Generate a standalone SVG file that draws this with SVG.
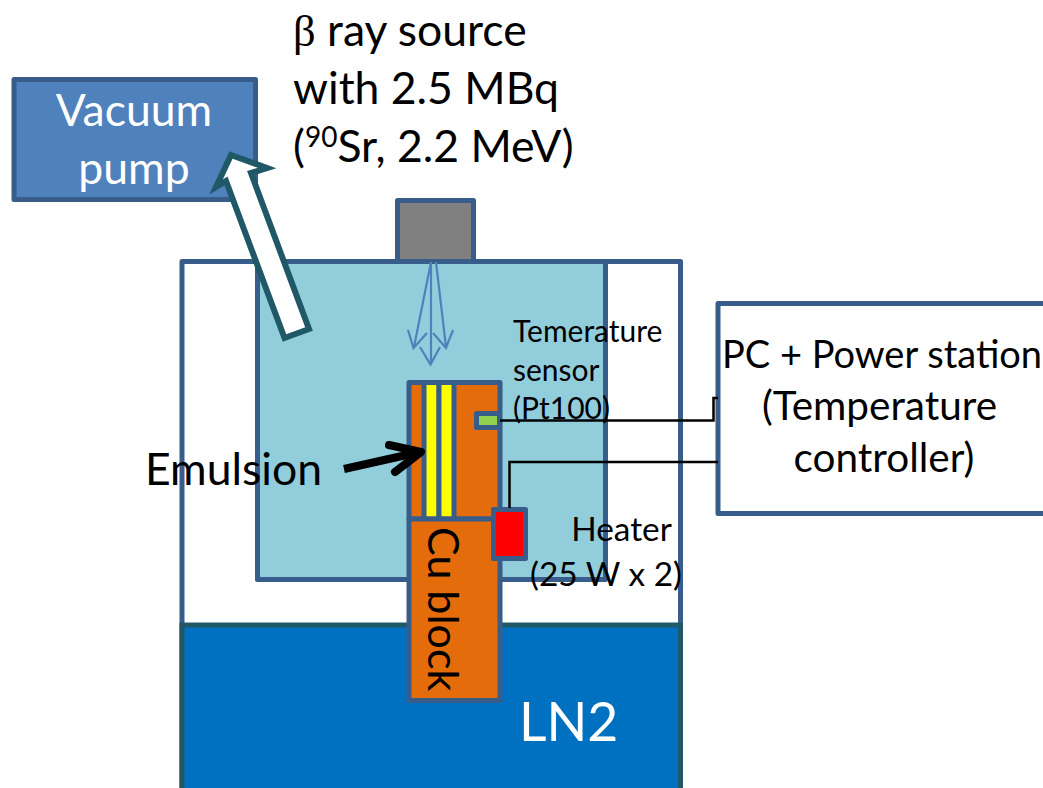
<svg xmlns="http://www.w3.org/2000/svg" width="1043" height="788" viewBox="0 0 1043 788">
<style>
.b{stroke:#385D8A;stroke-width:5;stroke-linejoin:round}
.t{font-family:"Lato","Noto Sans",sans-serif;fill:#000}
.l{font-size:43px}.m{font-size:44.500px}.p{font-size:40.500px}.s{font-size:30px}.h{font-size:33.400px}
.w{fill:#fff}.c{text-anchor:middle}
.wire{fill:none;stroke:#000;stroke-width:2.5}
.ray{fill:none;stroke:#4F81BD;stroke-width:2.2}
</style>
<rect width="1043" height="788" fill="#fff"/>
<g id="outer-box"><rect class="b" x="182" y="261.5" width="498.5" height="560" fill="#fff"/></g>
<g id="chamber"><rect class="b" x="257.5" y="261.5" width="348" height="318" fill="#92CDDC"/></g>
<g id="lin2"><rect x="182" y="625" width="498.5" height="200" fill="#0070C0" stroke="#215868" stroke-width="5"/><text class="t w" x="519" y="741" font-size="53.500">LN2</text></g>
<g id="source"><rect class="b" x="397.5" y="200.5" width="76" height="61" fill="#808080"/></g>
<g id="cu-block">
<rect class="b" x="409" y="382.5" width="91" height="136.5" fill="#E46C0A"/>
<rect class="b" x="424" y="382.5" width="15" height="136.5" fill="#FF0"/>
<rect class="b" x="439" y="382.5" width="15" height="136.5" fill="#FF0"/>
<rect class="b" x="409" y="519" width="91" height="181.5" fill="#E46C0A"/>
<text class="t l" transform="translate(428 527) rotate(90)">Cu block</text>
</g>
<g id="sensor"><rect class="b" x="476.5" y="413.5" width="23" height="14" fill="#92D050"/></g>
<g id="heater"><rect class="b" x="493.5" y="509.5" width="32" height="49" fill="#F00"/></g>
<g id="pump"><rect class="b" x="14" y="79.5" width="241.500" height="120" fill="#4F81BD"/>
<text class="t m w c" x="134" y="126">Vacuum</text><text class="t m w c" x="134" y="184">pump</text></g>
<g id="controller"><rect class="b" x="718" y="303.500" width="340" height="210" fill="#fff"/>
<text class="t" x="722" y="368" font-size="38">PC + Power station</text>
<text class="t p c" x="879.500" y="420">(Temperature</text>
<text class="t p c" x="884" y="472">controller)</text></g>
<g id="connectors">
<path class="wire" d="M500 420.500H713.500V398H718"/>
<path class="wire" d="M509.500 508V462H718"/>
<path class="ray" d="M431 262V364M420 347L430.500 364.500L440 347"/>
<path class="ray" d="M431 262L414 347M408 330L413.500 348L427 333"/>
<path class="ray" d="M436 262L446 347M433 333L446 348L453 330"/>
<path d="M231 155L267 168L251 173L309 329L284.500 338L226 181L216 187Z" fill="#fff" stroke="#215868" stroke-width="6"/>
<path d="M344 469L420 452" fill="none" stroke="#000" stroke-width="8"/>
<path d="M389 445L421 452L395 472" fill="none" stroke="#000" stroke-width="8" stroke-linejoin="round" stroke-linecap="round"/>
</g>
<g id="labels">
<text class="t m" x="293" y="46"><tspan font-family="Liberation Serif">β</tspan> ray source</text>
<text class="t m" x="293" y="104">with 2.5 MBq</text>
<text class="t m" x="293" y="162">(<tspan font-size="28" dy="-15">90</tspan><tspan dy="15">Sr, 2.2 MeV)</tspan></text>
<text class="t m" x="145" y="485">Emulsion</text>
<text class="t s" x="513" y="342">Temerature</text>
<text class="t s" x="513" y="381">sensor</text>
<text class="t s" x="513" y="419">(Pt100)</text>
<text class="t h c" x="621.500" y="541">Heater</text>
<text class="t h c" x="606" y="586">(25 W x 2)</text>
</g>
</svg>
